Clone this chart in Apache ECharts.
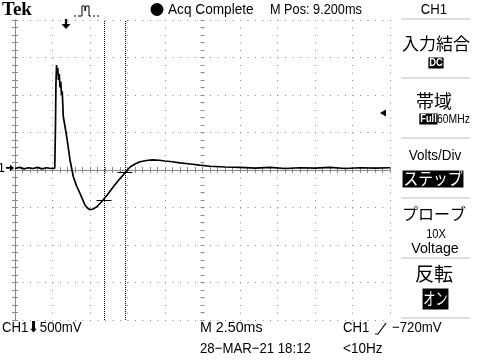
<!DOCTYPE html>
<html><head><meta charset="utf-8">
<script src="https://cdn.jsdelivr.net/npm/echarts@6/dist/echarts.min.js"></script>
<style>html,body{margin:0;padding:0;background:#fff}#c{width:480px;height:360px}</style>
</head><body><div id="c"></div>
<script>
// ---- data (time in ms, CH1 voltage in V) ----
const timeMs = [0,0.3,0.6,0.9,1.2,1.5,1.8,2.1,2.4,2.65,2.7,2.73,2.77,2.8,2.85,2.9,2.95,3.0,3.05,3.1,3.15,3.22,3.3,3.45,3.55,3.67,3.78,3.89,4.1,4.33,4.5,4.67,4.85,5.0,5.2,5.45,5.65,5.87,6.2,6.53,6.85,7.2,7.45,7.67,8.0,8.33,8.6,8.87,9.2,9.6,10.0,10.5,11.0,11.7,12.3,13.0,14.0,15.0,16.0,17.0,18.0,19.0,20.0,21.0,22.0,23.0,24.0,25.0];
const volts  = [0.02,0.035,0.015,0.03,0.02,0.035,0.015,0.03,0.02,0.025,0.6,1.15,1.40,1.30,1.36,1.20,1.28,1.10,1.18,1.00,1.05,0.71,0.62,0.44,0.30,0.13,0.02,-0.09,-0.21,-0.31,-0.39,-0.47,-0.51,-0.53,-0.52,-0.49,-0.45,-0.40,-0.32,-0.23,-0.15,-0.07,-0.01,0.04,0.08,0.11,0.12,0.13,0.135,0.13,0.12,0.11,0.095,0.08,0.065,0.05,0.04,0.035,0.025,0.035,0.02,0.03,0.025,0.035,0.02,0.03,0.025,0.03];
const cursorTimes = [5.93, 7.33];
const cursorLevels = [-0.40, -0.03];
const triggerTime = 3.4;
const triggerLevel = 0.76;
const groundLevel = 0.027;
const timeRange = [0, 25];      // 10 div x 2.5 ms
const voltRange = [-2, 2];      // 8 div x 500 mV
const timeDiv = 2.5, voltDiv = 0.5;

// ---- styles ----
const G = {left:15, top:20, width:375, height:300};
const gridColor = '#8a8a8a';
const sans = "'Liberation Sans',Arial,sans-serif";
const jp = "'Noto Sans CJK JP',sans-serif";
const tickLen = 3;
const crossHalf = 0.5;

const chart = echarts.init(document.getElementById('c'), null, {renderer:'canvas'});
const dotted = [1, 6.5];
function xAx(extra){ return Object.assign({type:'value', min:timeRange[0], max:timeRange[1], interval:timeDiv,
  axisLabel:{show:false}, splitLine:{show:false},
  axisLine:{show:true, lineStyle:{color:gridColor,width:1}},
  axisTick:{show:true, inside:true, length:tickLen, lineStyle:{color:gridColor}},
  minorTick:{show:true, splitNumber:5, length:tickLen, lineStyle:{color:gridColor}}}, extra); }
function yAx(extra){ return Object.assign({type:'value', min:voltRange[0], max:voltRange[1], interval:voltDiv,
  axisLabel:{show:false}, splitLine:{show:false},
  axisLine:{show:true, lineStyle:{color:gridColor,width:1}},
  axisTick:{show:true, inside:true, length:tickLen, lineStyle:{color:gridColor}},
  minorTick:{show:true, splitNumber:5, length:tickLen, lineStyle:{color:gridColor}}}, extra); }

const seriesData = timeMs.map((t,i)=>[t, volts[i]]);
const arrowDown = 'path://M3,0 L5,0 L5,5 L8,5 L4,10 L0,5 L3,5 Z';
const arrowRight = 'path://M0,3 L5,3 L5,0 L10,4 L5,8 L5,5 L0,5 Z';
const triLeft = 'path://M8,0 L8,8 L0,4 Z';

function T(text, x, y, size, opts, sx){ return {type:'text', x:x, y:y, scaleX:(sx||1), silent:true,
  style:Object.assign({text:text, fontSize:size, fontFamily:sans, fill:'#000', align:'left', verticalAlign:'middle'}, opts||{})}; }
function HL(x1,x2,y){ return {type:'line', shape:{x1:x1,y1:y,x2:x2,y2:y}, style:{stroke:'#bdbdbd',lineWidth:1}, silent:true}; }
const inv = {fill:'#fff', backgroundColor:'#000'};

const graphics = [
  T('Tek', 2, 10, 19, {fontFamily:"'Liberation Serif','DejaVu Serif',serif", fontWeight:'bold'}),
  {type:'polyline', shape:{points:[[74,16],[76,16]]}, style:{stroke:'#000',lineWidth:1}},
  {type:'polyline', shape:{points:[[78,16],[80,16],[82,16],[82,6],[85,6],[85,11],[86,6],[89,6],[89,16],[91,16]]}, style:{stroke:'#000',lineWidth:1,fill:null}},
  {type:'polyline', shape:{points:[[93,16],[95,16]]}, style:{stroke:'#000',lineWidth:1}},
  {type:'polyline', shape:{points:[[97,16],[99,16]]}, style:{stroke:'#000',lineWidth:1}},
  {type:'circle', shape:{cx:157, cy:9.5, r:6.5}, style:{fill:'#000'}},
  T('Acq Complete', 168, 10, 15.5, null, 0.88),
  T('M Pos: 9.200ms', 270, 10, 15.5, null, 0.82),
  T('CH1', 434, 10, 15.5, {align:'center'}, 0.85),
  HL(401,470,19), HL(401,470,78), HL(401,470,138), HL(401,470,198), HL(401,470,258), HL(401,470,318),
  T('入力結合', 436, 44, 17, {align:'center', fontFamily:jp}),
  T('DC', 436, 63, 11, Object.assign({align:'center', padding:[0,1], fontWeight:'bold'}, inv), 0.85),
  T('帯域', 434, 101, 18, {align:'center', fontFamily:jp}),
  T('Full', 428.5, 119, 11, Object.assign({align:'center', padding:[0,1], fontWeight:'bold'}, inv), 0.85),
  T('60MHz', 437, 119, 13, null, 0.8),
  T('Volts/Div', 435, 156, 15, {align:'center'}, 0.9),
  T('ステップ', 433, 179, 17, Object.assign({align:'center', fontFamily:jp, padding:[0,1]}, inv), 0.87),
  T('プローブ', 434, 214, 16, {align:'center', fontFamily:jp}),
  T('10X', 436, 234, 13, {align:'center'}, 0.85),
  T('Voltage', 435, 249, 15, {align:'center'}, 0.95),
  T('反転', 434, 274, 19, {align:'center', fontFamily:jp}),
  T('オン', 435.5, 299, 17, Object.assign({align:'center', fontFamily:jp, padding:[2,1]}, inv), 0.72),
  T('CH1\u2B07500mV', 2, 328, 15, null, 0.88),
  T('M 2.50ms', 200, 328, 15, null, 0.95),
  T('28\u2212MAR\u221221 18:12', 200, 349, 15, null, 0.88),
  T('CH1', 343, 328, 15, null, 0.88),
  {type:'polyline', shape:{points:[[375,334],[378,334],[386,323]]}, style:{stroke:'#000',lineWidth:1.2,fill:null}},
  T('\u2212720mV', 392, 328, 15, null, 0.88),
  T('<10Hz', 343, 349, 15, null, 0.9)
];

chart.setOption({
  animation:false,
  backgroundColor:'#fff',
  grid:{left:G.left, top:G.top, width:G.width, height:G.height, containLabel:false},
  xAxis:[
    xAx({position:'bottom', splitLine:{show:true, lineStyle:{color:gridColor, type:dotted, width:1}}}),
    xAx({position:'top'}),
    xAx({position:'bottom', offset:-G.height/2, axisLine:{show:true, lineStyle:{color:'rgba(0,0,0,0)'}}, axisTick:{show:true, inside:true, length:2, lineStyle:{color:gridColor}}, minorTick:{show:true, splitNumber:5, length:2, lineStyle:{color:gridColor}}}),
    xAx({position:'bottom', offset:-G.height/2, axisLine:{show:true, lineStyle:{color:'rgba(0,0,0,0)'}}, axisTick:{show:true, inside:false, length:2, lineStyle:{color:gridColor}}, minorTick:{show:true, splitNumber:5, length:2, lineStyle:{color:gridColor}}})
  ],
  yAxis:[
    yAx({position:'left', splitLine:{show:true, lineStyle:{color:gridColor, type:dotted, width:1}}}),
    yAx({position:'right'}),
    yAx({position:'left', offset:-G.width/2, axisLine:{show:true, lineStyle:{color:'rgba(0,0,0,0)'}}, axisTick:{show:true, inside:true, length:2, lineStyle:{color:gridColor}}, minorTick:{show:true, splitNumber:5, length:2, lineStyle:{color:gridColor}}}),
    yAx({position:'left', offset:-G.width/2, axisLine:{show:true, lineStyle:{color:'rgba(0,0,0,0)'}}, axisTick:{show:true, inside:false, length:2, lineStyle:{color:gridColor}}, minorTick:{show:true, splitNumber:5, length:2, lineStyle:{color:gridColor}}})
  ],
  series:[{
    type:'line', xAxisIndex:0, yAxisIndex:0, data:seriesData, symbol:'none', smooth:false,
    lineStyle:{color:'#000', width:1.7}, z:5,
    markLine:{silent:true, symbol:'none', label:{show:false},
      data:[
        {xAxis:cursorTimes[0], lineStyle:{color:'#000', type:[1,1], width:1}},
        {xAxis:cursorTimes[1], lineStyle:{color:'#000', type:[1,1], width:1}},
        [{coord:[cursorTimes[0]-crossHalf, cursorLevels[0]], lineStyle:{color:'#000', type:'solid', width:1}}, {coord:[cursorTimes[0]+crossHalf, cursorLevels[0]]}],
        [{coord:[cursorTimes[1]-crossHalf, cursorLevels[1]], lineStyle:{color:'#000', type:'solid', width:1}}, {coord:[cursorTimes[1]+crossHalf, cursorLevels[1]]}]
      ]},
    markPoint:{silent:true, data:[
      {coord:[triggerTime, voltRange[1]], symbol:arrowDown, symbolSize:[9,10], symbolOffset:[0,4], itemStyle:{color:'#000'}, label:{show:false}},
      {coord:[timeRange[1], triggerLevel], symbol:triLeft, symbolSize:[6,7], symbolOffset:[-7,0], itemStyle:{color:'#000'}, label:{show:false}},
      {coord:[timeRange[0], groundLevel], symbol:arrowRight, symbolSize:[8,7], symbolOffset:[-5,0], itemStyle:{color:'#000'},
        label:{show:true, position:'left', distance:1, formatter:'1', color:'#000', fontSize:13, fontFamily:sans}}
    ]}
  }],
  graphic:graphics
});
</script></body></html>
